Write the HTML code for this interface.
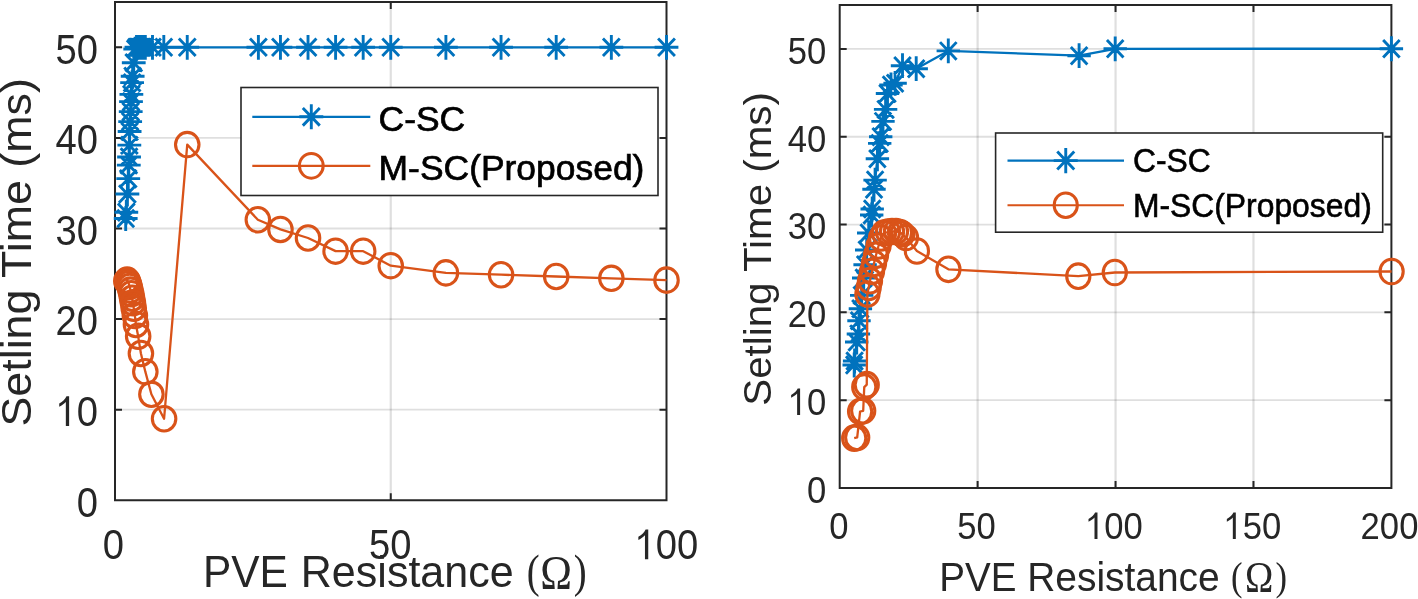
<!DOCTYPE html>
<html><head><meta charset="utf-8"><style>
html,body{margin:0;padding:0;background:#fff;width:1418px;height:599px;overflow:hidden}
svg{display:block;will-change:transform}
text{font-family:"Liberation Sans",sans-serif;fill:#262626}
</style></head><body>
<svg width="1418" height="599" viewBox="0 0 1418 599">
<rect width="1418" height="599" fill="#fff"/>
<path d="M390.75 2V500.3" stroke="#262626" stroke-opacity="0.15" stroke-width="2.2" fill="none"/>
<path d="M115 409.7H666.5" stroke="#262626" stroke-opacity="0.15" stroke-width="1.8" fill="none"/>
<path d="M115 319.1H666.5" stroke="#262626" stroke-opacity="0.15" stroke-width="1.8" fill="none"/>
<path d="M115 228.5H666.5" stroke="#262626" stroke-opacity="0.15" stroke-width="1.8" fill="none"/>
<path d="M115 137.9H666.5" stroke="#262626" stroke-opacity="0.15" stroke-width="1.8" fill="none"/>
<path d="M115 47.3H666.5" stroke="#262626" stroke-opacity="0.15" stroke-width="1.8" fill="none"/>
<path d="M115 2H666.5V500.3H115ZM115 500.3v-6M115 2v6M390.75 500.3v-6M390.75 2v6M666.5 500.3v-6M666.5 2v6M115 500.3h6M666.5 500.3h-6M115 409.7h6M666.5 409.7h-6M115 319.1h6M666.5 319.1h-6M115 228.5h6M666.5 228.5h-6M115 137.9h6M666.5 137.9h-6M115 47.3h6M666.5 47.3h-6" stroke="#262626" stroke-width="2" fill="none" stroke-linecap="square"/>
<path d="M125.7 218.53 L126.31 212.19 L127.41 194.07 L128.24 178.67 L128.79 165.08 L129.06 156.93 L129.34 145.15 L129.61 131.56 L130.17 121.59 L130.72 111.63 L130.99 101.66 L131.38 94.41 L132.1 82.63 L132.65 76.29 L133.75 62.7 L135.24 49.11 L136.51 47.3 L137.89 47.3 L139.27 47.3 L140.64 47.3 L142.02 47.3 L143.68 47.3 L145.33 47.3 L152.5 47.3 L163.81 47.3 L187.25 47.3 L258.39 47.3 L280.45 47.3 L308.02 47.3 L335.6 47.3 L363.18 47.3 L390.75 47.3 L445.9 47.3 L501.05 47.3 L556.2 47.3 L611.35 47.3 L666.5 47.3" stroke="#0072BD" stroke-width="2.3" fill="none" stroke-linejoin="round"/>
<path d="M113.8 218.53H137.6M125.7 206.16V230.91M117.28 209.78L134.11 227.29M117.28 227.29L134.11 209.78M114.41 212.19H138.21M126.31 199.82V224.57M117.89 203.44L134.72 220.94M117.89 220.94L134.72 203.44M115.51 194.07H139.31M127.41 181.7V206.45M118.99 185.32L135.82 202.82M118.99 202.82L135.82 185.32M116.34 178.67H140.14M128.24 166.29V191.05M119.82 169.92L136.65 187.42M119.82 187.42L136.65 169.92M116.89 165.08H140.69M128.79 152.7V177.46M120.37 156.33L137.2 173.83M120.37 173.83L137.2 156.33M117.16 156.93H140.96M129.06 144.55V169.3M120.65 148.17L137.48 165.68M120.65 165.68L137.48 148.17M117.44 145.15H141.24M129.34 132.77V157.52M120.92 136.4L137.75 153.9M120.92 153.9L137.75 136.4M117.71 131.56H141.51M129.61 119.18V143.93M121.2 122.81L138.03 140.31M121.2 140.31L138.03 122.81M118.27 121.59H142.07M130.17 109.22V133.97M121.75 112.84L138.58 130.34M121.75 130.34L138.58 112.84M118.82 111.63H142.62M130.72 99.25V124M122.3 102.87L139.13 120.38M122.3 120.38L139.13 102.87M119.09 101.66H142.89M130.99 89.28V114.04M122.58 92.91L139.41 110.41M122.58 110.41L139.41 92.91M119.48 94.41H143.28M131.38 82.04V106.79M122.97 85.66L139.79 103.16M122.97 103.16L139.79 85.66M120.2 82.63H144M132.1 70.26V95.01M123.68 73.88L140.51 91.39M123.68 91.39L140.51 73.88M120.75 76.29H144.55M132.65 63.92V88.67M124.23 67.54L141.06 85.04M124.23 85.04L141.06 67.54M121.85 62.7H145.65M133.75 50.33V75.08M125.34 53.95L142.17 71.45M125.34 71.45L142.17 53.95M123.34 49.11H147.14M135.24 36.74V61.49M126.83 40.36L143.65 57.86M126.83 57.86L143.65 40.36M124.61 47.3H148.41M136.51 34.92V59.68M128.09 38.55L144.92 56.05M128.09 56.05L144.92 38.55M125.99 47.3H149.79M137.89 34.92V59.68M129.47 38.55L146.3 56.05M129.47 56.05L146.3 38.55M127.37 47.3H151.17M139.27 34.92V59.68M130.85 38.55L147.68 56.05M130.85 56.05L147.68 38.55M128.74 47.3H152.54M140.64 34.92V59.68M132.23 38.55L149.06 56.05M132.23 56.05L149.06 38.55M130.12 47.3H153.92M142.02 34.92V59.68M133.61 38.55L150.44 56.05M133.61 56.05L150.44 38.55M131.78 47.3H155.58M143.68 34.92V59.68M135.26 38.55L152.09 56.05M135.26 56.05L152.09 38.55M133.43 47.3H157.23M145.33 34.92V59.68M136.92 38.55L153.75 56.05M136.92 56.05L153.75 38.55M140.6 47.3H164.4M152.5 34.92V59.68M144.09 38.55L160.92 56.05M144.09 56.05L160.92 38.55M151.91 47.3H175.71M163.81 34.92V59.68M155.39 38.55L172.22 56.05M155.39 56.05L172.22 38.55M175.35 47.3H199.15M187.25 34.92V59.68M178.83 38.55L195.66 56.05M178.83 56.05L195.66 38.55M246.49 47.3H270.29M258.39 34.92V59.68M249.98 38.55L266.8 56.05M249.98 56.05L266.8 38.55M268.55 47.3H292.35M280.45 34.92V59.68M272.04 38.55L288.86 56.05M272.04 56.05L288.86 38.55M296.12 47.3H319.92M308.02 34.92V59.68M299.61 38.55L316.44 56.05M299.61 56.05L316.44 38.55M323.7 47.3H347.5M335.6 34.92V59.68M327.19 38.55L344.01 56.05M327.19 56.05L344.01 38.55M351.28 47.3H375.07M363.18 34.92V59.68M354.76 38.55L371.59 56.05M354.76 56.05L371.59 38.55M378.85 47.3H402.65M390.75 34.92V59.68M382.34 38.55L399.16 56.05M382.34 56.05L399.16 38.55M434 47.3H457.8M445.9 34.92V59.68M437.49 38.55L454.31 56.05M437.49 56.05L454.31 38.55M489.15 47.3H512.95M501.05 34.92V59.68M492.64 38.55L509.46 56.05M492.64 56.05L509.46 38.55M544.3 47.3H568.1M556.2 34.92V59.68M547.79 38.55L564.61 56.05M547.79 56.05L564.61 38.55M599.45 47.3H623.25M611.35 34.92V59.68M602.94 38.55L619.76 56.05M602.94 56.05L619.76 38.55M654.6 47.3H678.4M666.5 34.92V59.68M658.09 38.55L674.91 56.05M658.09 56.05L674.91 38.55" stroke="#0072BD" stroke-width="2.9" fill="none"/>
<path d="M126.31 281.05 L127.13 280.14 L127.96 281.5 L128.79 283.77 L129.61 286.48 L130.44 290.11 L131.27 293.73 L132.1 298.26 L132.92 302.79 L133.75 308.23 L134.85 315.48 L135.96 324.54 L138.16 336.31 L140.92 353.53 L145.33 371.65 L151.4 394.3 L164.08 418.76 L187.25 144.6 L257.84 219.71 L280.45 229.41 L308.02 238.01 L335.6 251.15 L363.18 251.15 L390.75 265.65 L445.9 272.89 L501.05 274.71 L556.2 276.52 L611.35 278.33 L666.5 280.14" stroke="#D95319" stroke-width="2.3" fill="none" stroke-linejoin="round"/>
<ellipse cx="126.31" cy="281.05" rx="11.75" ry="12.22" stroke="#D95319" stroke-width="3.1" fill="none"/>
<ellipse cx="127.13" cy="280.14" rx="11.75" ry="12.22" stroke="#D95319" stroke-width="3.1" fill="none"/>
<ellipse cx="127.96" cy="281.5" rx="11.75" ry="12.22" stroke="#D95319" stroke-width="3.1" fill="none"/>
<ellipse cx="128.79" cy="283.77" rx="11.75" ry="12.22" stroke="#D95319" stroke-width="3.1" fill="none"/>
<ellipse cx="129.61" cy="286.48" rx="11.75" ry="12.22" stroke="#D95319" stroke-width="3.1" fill="none"/>
<ellipse cx="130.44" cy="290.11" rx="11.75" ry="12.22" stroke="#D95319" stroke-width="3.1" fill="none"/>
<ellipse cx="131.27" cy="293.73" rx="11.75" ry="12.22" stroke="#D95319" stroke-width="3.1" fill="none"/>
<ellipse cx="132.1" cy="298.26" rx="11.75" ry="12.22" stroke="#D95319" stroke-width="3.1" fill="none"/>
<ellipse cx="132.92" cy="302.79" rx="11.75" ry="12.22" stroke="#D95319" stroke-width="3.1" fill="none"/>
<ellipse cx="133.75" cy="308.23" rx="11.75" ry="12.22" stroke="#D95319" stroke-width="3.1" fill="none"/>
<ellipse cx="134.85" cy="315.48" rx="11.75" ry="12.22" stroke="#D95319" stroke-width="3.1" fill="none"/>
<ellipse cx="135.96" cy="324.54" rx="11.75" ry="12.22" stroke="#D95319" stroke-width="3.1" fill="none"/>
<ellipse cx="138.16" cy="336.31" rx="11.75" ry="12.22" stroke="#D95319" stroke-width="3.1" fill="none"/>
<ellipse cx="140.92" cy="353.53" rx="11.75" ry="12.22" stroke="#D95319" stroke-width="3.1" fill="none"/>
<ellipse cx="145.33" cy="371.65" rx="11.75" ry="12.22" stroke="#D95319" stroke-width="3.1" fill="none"/>
<ellipse cx="151.4" cy="394.3" rx="11.75" ry="12.22" stroke="#D95319" stroke-width="3.1" fill="none"/>
<ellipse cx="164.08" cy="418.76" rx="11.75" ry="12.22" stroke="#D95319" stroke-width="3.1" fill="none"/>
<ellipse cx="187.25" cy="144.6" rx="11.75" ry="12.22" stroke="#D95319" stroke-width="3.1" fill="none"/>
<ellipse cx="257.84" cy="219.71" rx="11.75" ry="12.22" stroke="#D95319" stroke-width="3.1" fill="none"/>
<ellipse cx="280.45" cy="229.41" rx="11.75" ry="12.22" stroke="#D95319" stroke-width="3.1" fill="none"/>
<ellipse cx="308.02" cy="238.01" rx="11.75" ry="12.22" stroke="#D95319" stroke-width="3.1" fill="none"/>
<ellipse cx="335.6" cy="251.15" rx="11.75" ry="12.22" stroke="#D95319" stroke-width="3.1" fill="none"/>
<ellipse cx="363.18" cy="251.15" rx="11.75" ry="12.22" stroke="#D95319" stroke-width="3.1" fill="none"/>
<ellipse cx="390.75" cy="265.65" rx="11.75" ry="12.22" stroke="#D95319" stroke-width="3.1" fill="none"/>
<ellipse cx="445.9" cy="272.89" rx="11.75" ry="12.22" stroke="#D95319" stroke-width="3.1" fill="none"/>
<ellipse cx="501.05" cy="274.71" rx="11.75" ry="12.22" stroke="#D95319" stroke-width="3.1" fill="none"/>
<ellipse cx="556.2" cy="276.52" rx="11.75" ry="12.22" stroke="#D95319" stroke-width="3.1" fill="none"/>
<ellipse cx="611.35" cy="278.33" rx="11.75" ry="12.22" stroke="#D95319" stroke-width="3.1" fill="none"/>
<ellipse cx="666.5" cy="280.14" rx="11.75" ry="12.22" stroke="#D95319" stroke-width="3.1" fill="none"/>
<text transform="translate(97.9 516.65) scale(0.955 1.06)" font-size="40" text-anchor="end">0</text>
<text transform="translate(97.9 426.05) scale(0.955 1.06)" font-size="40" text-anchor="end"><tspan style="fill:none">1</tspan>0</text>
<path transform="translate(55.41 426.05) scale(38.2 42.4)" d="M0.359 0V-0.703H0.29C0.26 -0.64 0.19 -0.575 0.10 -0.53V-0.455C0.17 -0.49 0.23 -0.53 0.273 -0.57V0Z" fill="#262626"/>
<text transform="translate(97.9 335.45) scale(0.955 1.06)" font-size="40" text-anchor="end">20</text>
<text transform="translate(97.9 244.85) scale(0.955 1.06)" font-size="40" text-anchor="end">30</text>
<text transform="translate(97.9 154.25) scale(0.955 1.06)" font-size="40" text-anchor="end">40</text>
<text transform="translate(97.9 63.65) scale(0.955 1.06)" font-size="40" text-anchor="end">50</text>
<text transform="translate(113.4 559.3) scale(0.955 1.06)" font-size="40" text-anchor="middle">0</text>
<text transform="translate(390.35 559.3) scale(0.955 1.06)" font-size="40" text-anchor="middle">50</text>
<text transform="translate(666.4 559.3) scale(0.955 1.06)" font-size="40" text-anchor="middle"><tspan style="fill:none">1</tspan>00</text>
<path transform="translate(634.53 559.3) scale(38.2 42.4)" d="M0.359 0V-0.703H0.29C0.26 -0.64 0.19 -0.575 0.10 -0.53V-0.455C0.17 -0.49 0.23 -0.53 0.273 -0.57V0Z" fill="#262626"/>
<text transform="translate(202.9 587.3) scale(0.965 1.014)" font-size="44">PVE</text>
<text transform="translate(300.8 587.3) scale(0.978 1.014)" font-size="44">Resistance</text>
<text transform="translate(526.7 587.3) scale(0.85 1)" font-size="45.6" style="font-family:'Liberation Serif'">(</text>
<text transform="translate(540.3 589) scale(0.88 1)" font-size="48.5" style="font-family:'Liberation Serif'">&#937;</text>
<text transform="translate(573.8 587.3) scale(0.85 1)" font-size="45.6" style="font-family:'Liberation Serif'">)</text>
<text transform="translate(31 426.5) scale(0.965 1.018) rotate(-90)" font-size="44">Setling Time (ms)</text>
<rect x="241" y="87.5" width="417" height="108" fill="#fff" stroke="#262626" stroke-width="1.6"/>
<path d="M252.3 116.8H370.3" stroke="#0072BD" stroke-width="2.2"/>
<path d="M299.3 116.8H323.3M311.3 104.32V129.28M302.81 107.98L319.79 125.62M302.81 125.62L319.79 107.98" stroke="#0072BD" stroke-width="2.9" fill="none"/>
<text transform="translate(378.6 131.2) scale(0.99 1)" font-size="35.8" style="fill:#000;stroke:#000;stroke-width:0.7px">C-SC</text>
<path d="M252.3 165.8H370.3" stroke="#D95319" stroke-width="2.2"/>
<ellipse cx="311.3" cy="165.8" rx="11.9" ry="12.38" stroke="#D95319" stroke-width="3" fill="none"/>
<text transform="translate(378.6 180.2) scale(0.99 1)" font-size="35.8" style="fill:#000;stroke:#000;stroke-width:0.7px">M-SC(Proposed)</text>
<path d="M977.62 5V488" stroke="#262626" stroke-opacity="0.15" stroke-width="2.2" fill="none"/>
<path d="M1115.55 5V488" stroke="#262626" stroke-opacity="0.15" stroke-width="2.2" fill="none"/>
<path d="M1253.48 5V488" stroke="#262626" stroke-opacity="0.15" stroke-width="2.2" fill="none"/>
<path d="M839.7 400.18H1391.4" stroke="#262626" stroke-opacity="0.15" stroke-width="1.8" fill="none"/>
<path d="M839.7 312.36H1391.4" stroke="#262626" stroke-opacity="0.15" stroke-width="1.8" fill="none"/>
<path d="M839.7 224.55H1391.4" stroke="#262626" stroke-opacity="0.15" stroke-width="1.8" fill="none"/>
<path d="M839.7 136.73H1391.4" stroke="#262626" stroke-opacity="0.15" stroke-width="1.8" fill="none"/>
<path d="M839.7 48.91H1391.4" stroke="#262626" stroke-opacity="0.15" stroke-width="1.8" fill="none"/>
<path d="M839.7 5H1391.4V488H839.7ZM839.7 488v-6M839.7 5v6M977.62 488v-6M977.62 5v6M1115.55 488v-6M1115.55 5v6M1253.48 488v-6M1253.48 5v6M1391.4 488v-6M1391.4 5v6M839.7 488h6M1391.4 488h-6M839.7 400.18h6M1391.4 400.18h-6M839.7 312.36h6M1391.4 312.36h-6M839.7 224.55h6M1391.4 224.55h-6M839.7 136.73h6M1391.4 136.73h-6M839.7 48.91h6M1391.4 48.91h-6" stroke="#262626" stroke-width="2" fill="none" stroke-linecap="square"/>
<path d="M854.2 365 L854.6 361 L856.7 342 L858.4 334 L859 320.8 L860.4 308.7 L861.7 295.4 L863.7 278 L865.1 264.7 L866.7 250 L868.7 233 L871.7 215 L872.2 209 L874 189.3 L875.1 180.1 L877.4 158.8 L879.7 143.4 L880.7 136.7 L883 121.4 L885.6 109.4 L887.5 93.5 L891 85 L895.1 83.3 L902.5 65.7 L916.2 68.7 L948.3 50.9 L1079.1 55.7 L1115.2 48.8 L1391.4 48.75" stroke="#0072BD" stroke-width="2.3" fill="none" stroke-linejoin="round"/>
<path d="M842.5 365H865.9M854.2 352.6V377.4M845.93 356.23L862.47 373.77M845.93 373.77L862.47 356.23M842.9 361H866.3M854.6 348.6V373.4M846.33 352.23L862.87 369.77M846.33 369.77L862.87 352.23M845 342H868.4M856.7 329.6V354.4M848.43 333.23L864.97 350.77M848.43 350.77L864.97 333.23M846.7 334H870.1M858.4 321.6V346.4M850.13 325.23L866.67 342.77M850.13 342.77L866.67 325.23M847.3 320.8H870.7M859 308.4V333.2M850.73 312.03L867.27 329.57M850.73 329.57L867.27 312.03M848.7 308.7H872.1M860.4 296.3V321.1M852.13 299.93L868.67 317.47M852.13 317.47L868.67 299.93M850 295.4H873.4M861.7 283V307.8M853.43 286.63L869.97 304.17M853.43 304.17L869.97 286.63M852 278H875.4M863.7 265.6V290.4M855.43 269.23L871.97 286.77M855.43 286.77L871.97 269.23M853.4 264.7H876.8M865.1 252.3V277.1M856.83 255.93L873.37 273.47M856.83 273.47L873.37 255.93M855 250H878.4M866.7 237.6V262.4M858.43 241.23L874.97 258.77M858.43 258.77L874.97 241.23M857 233H880.4M868.7 220.6V245.4M860.43 224.23L876.97 241.77M860.43 241.77L876.97 224.23M860 215H883.4M871.7 202.6V227.4M863.43 206.23L879.97 223.77M863.43 223.77L879.97 206.23M860.5 209H883.9M872.2 196.6V221.4M863.93 200.23L880.47 217.77M863.93 217.77L880.47 200.23M862.3 189.3H885.7M874 176.9V201.7M865.73 180.53L882.27 198.07M865.73 198.07L882.27 180.53M863.4 180.1H886.8M875.1 167.7V192.5M866.83 171.33L883.37 188.87M866.83 188.87L883.37 171.33M865.7 158.8H889.1M877.4 146.4V171.2M869.13 150.03L885.67 167.57M869.13 167.57L885.67 150.03M868 143.4H891.4M879.7 131V155.8M871.43 134.63L887.97 152.17M871.43 152.17L887.97 134.63M869 136.7H892.4M880.7 124.3V149.1M872.43 127.93L888.97 145.47M872.43 145.47L888.97 127.93M871.3 121.4H894.7M883 109V133.8M874.73 112.63L891.27 130.17M874.73 130.17L891.27 112.63M873.9 109.4H897.3M885.6 97V121.8M877.33 100.63L893.87 118.17M877.33 118.17L893.87 100.63M875.8 93.5H899.2M887.5 81.1V105.9M879.23 84.73L895.77 102.27M879.23 102.27L895.77 84.73M879.3 85H902.7M891 72.6V97.4M882.73 76.23L899.27 93.77M882.73 93.77L899.27 76.23M883.4 83.3H906.8M895.1 70.9V95.7M886.83 74.53L903.37 92.07M886.83 92.07L903.37 74.53M890.8 65.7H914.2M902.5 53.3V78.1M894.23 56.93L910.77 74.47M894.23 74.47L910.77 56.93M904.5 68.7H927.9M916.2 56.3V81.1M907.93 59.93L924.47 77.47M907.93 77.47L924.47 59.93M936.6 50.9H960M948.3 38.5V63.3M940.03 42.13L956.57 59.67M940.03 59.67L956.57 42.13M1067.4 55.7H1090.8M1079.1 43.3V68.1M1070.83 46.93L1087.37 64.47M1070.83 64.47L1087.37 46.93M1103.5 48.8H1126.9M1115.2 36.4V61.2M1106.93 40.03L1123.47 57.57M1106.93 57.57L1123.47 40.03M1379.7 48.75H1403.1M1391.4 36.35V61.15M1383.13 39.98L1399.67 57.52M1383.13 57.52L1399.67 39.98" stroke="#0072BD" stroke-width="2.9" fill="none"/>
<path d="M854.2 438.2 L857.2 437.4 L860.1 411.5 L863.2 410.8 L864.25 387.1 L866.75 384.7 L867.4 294 L868.7 287.4 L870 280.7 L872 271.4 L874 263.4 L876 255.3 L878.5 246 L881 238 L884 233 L888 232 L892 231.5 L896 231.5 L900 232.5 L902.3 234 L906 237.5 L916.9 251 L948.4 269.3 L1078.3 276.2 L1114.8 272.5 L1391.6 271.5" stroke="#D95319" stroke-width="2.3" fill="none" stroke-linejoin="round"/>
<ellipse cx="854.2" cy="438.2" rx="11.6" ry="12.3" stroke="#D95319" stroke-width="3.1" fill="none"/>
<ellipse cx="857.2" cy="437.4" rx="11.6" ry="12.3" stroke="#D95319" stroke-width="3.1" fill="none"/>
<ellipse cx="860.1" cy="411.5" rx="11.6" ry="12.3" stroke="#D95319" stroke-width="3.1" fill="none"/>
<ellipse cx="863.2" cy="410.8" rx="11.6" ry="12.3" stroke="#D95319" stroke-width="3.1" fill="none"/>
<ellipse cx="864.25" cy="387.1" rx="11.6" ry="12.3" stroke="#D95319" stroke-width="3.1" fill="none"/>
<ellipse cx="866.75" cy="384.7" rx="11.6" ry="12.3" stroke="#D95319" stroke-width="3.1" fill="none"/>
<ellipse cx="867.4" cy="294" rx="11.6" ry="12.3" stroke="#D95319" stroke-width="3.1" fill="none"/>
<ellipse cx="868.7" cy="287.4" rx="11.6" ry="12.3" stroke="#D95319" stroke-width="3.1" fill="none"/>
<ellipse cx="870" cy="280.7" rx="11.6" ry="12.3" stroke="#D95319" stroke-width="3.1" fill="none"/>
<ellipse cx="872" cy="271.4" rx="11.6" ry="12.3" stroke="#D95319" stroke-width="3.1" fill="none"/>
<ellipse cx="874" cy="263.4" rx="11.6" ry="12.3" stroke="#D95319" stroke-width="3.1" fill="none"/>
<ellipse cx="876" cy="255.3" rx="11.6" ry="12.3" stroke="#D95319" stroke-width="3.1" fill="none"/>
<ellipse cx="878.5" cy="246" rx="11.6" ry="12.3" stroke="#D95319" stroke-width="3.1" fill="none"/>
<ellipse cx="881" cy="238" rx="11.6" ry="12.3" stroke="#D95319" stroke-width="3.1" fill="none"/>
<ellipse cx="884" cy="233" rx="11.6" ry="12.3" stroke="#D95319" stroke-width="3.1" fill="none"/>
<ellipse cx="888" cy="232" rx="11.6" ry="12.3" stroke="#D95319" stroke-width="3.1" fill="none"/>
<ellipse cx="892" cy="231.5" rx="11.6" ry="12.3" stroke="#D95319" stroke-width="3.1" fill="none"/>
<ellipse cx="896" cy="231.5" rx="11.6" ry="12.3" stroke="#D95319" stroke-width="3.1" fill="none"/>
<ellipse cx="900" cy="232.5" rx="11.6" ry="12.3" stroke="#D95319" stroke-width="3.1" fill="none"/>
<ellipse cx="902.3" cy="234" rx="11.6" ry="12.3" stroke="#D95319" stroke-width="3.1" fill="none"/>
<ellipse cx="906" cy="237.5" rx="11.6" ry="12.3" stroke="#D95319" stroke-width="3.1" fill="none"/>
<ellipse cx="916.9" cy="251" rx="11.6" ry="12.3" stroke="#D95319" stroke-width="3.1" fill="none"/>
<ellipse cx="948.4" cy="269.3" rx="11.6" ry="12.3" stroke="#D95319" stroke-width="3.1" fill="none"/>
<ellipse cx="1078.3" cy="276.2" rx="11.6" ry="12.3" stroke="#D95319" stroke-width="3.1" fill="none"/>
<ellipse cx="1114.8" cy="272.5" rx="11.6" ry="12.3" stroke="#D95319" stroke-width="3.1" fill="none"/>
<ellipse cx="1391.6" cy="271.5" rx="11.6" ry="12.3" stroke="#D95319" stroke-width="3.1" fill="none"/>
<text transform="translate(826.2 502.8) scale(0.99 1.075)" font-size="35" text-anchor="end">0</text>
<text transform="translate(826.2 414.98) scale(0.99 1.075)" font-size="35" text-anchor="end"><tspan style="fill:none">1</tspan>0</text>
<path transform="translate(787.66 414.98) scale(34.65 37.62)" d="M0.359 0V-0.703H0.29C0.26 -0.64 0.19 -0.575 0.10 -0.53V-0.455C0.17 -0.49 0.23 -0.53 0.273 -0.57V0Z" fill="#262626"/>
<text transform="translate(826.2 327.16) scale(0.99 1.075)" font-size="35" text-anchor="end">20</text>
<text transform="translate(826.2 239.35) scale(0.99 1.075)" font-size="35" text-anchor="end">30</text>
<text transform="translate(826.2 151.53) scale(0.99 1.075)" font-size="35" text-anchor="end">40</text>
<text transform="translate(826.2 63.71) scale(0.99 1.075)" font-size="35" text-anchor="end">50</text>
<text transform="translate(838.9 538.9) scale(0.99 1.075)" font-size="35" text-anchor="middle">0</text>
<text transform="translate(976.42 538.9) scale(0.99 1.075)" font-size="35" text-anchor="middle">50</text>
<text transform="translate(1113.95 538.9) scale(0.99 1.075)" font-size="35" text-anchor="middle"><tspan style="fill:none">1</tspan>00</text>
<path transform="translate(1085.04 538.9) scale(34.65 37.62)" d="M0.359 0V-0.703H0.29C0.26 -0.64 0.19 -0.575 0.10 -0.53V-0.455C0.17 -0.49 0.23 -0.53 0.273 -0.57V0Z" fill="#262626"/>
<text transform="translate(1252.28 538.9) scale(0.99 1.075)" font-size="35" text-anchor="middle"><tspan style="fill:none">1</tspan>50</text>
<path transform="translate(1223.37 538.9) scale(34.65 37.62)" d="M0.359 0V-0.703H0.29C0.26 -0.64 0.19 -0.575 0.10 -0.53V-0.455C0.17 -0.49 0.23 -0.53 0.273 -0.57V0Z" fill="#262626"/>
<text transform="translate(1389.5 538.9) scale(0.99 1.075)" font-size="35" text-anchor="middle">200</text>
<text transform="translate(939.2 590.5) scale(0.965 1.014)" font-size="40">PVE</text>
<text transform="translate(1027.2 590.5) scale(0.973 1.014)" font-size="40">Resistance</text>
<text transform="translate(1231.1 590.2) scale(0.85 1)" font-size="40.7" style="font-family:'Liberation Serif'">(</text>
<text transform="translate(1244.9 591.6) scale(0.88 1)" font-size="43.3" style="font-family:'Liberation Serif'">&#937;</text>
<text transform="translate(1275.5 590.2) scale(0.85 1)" font-size="40.7" style="font-family:'Liberation Serif'">)</text>
<text transform="translate(771 405.7) scale(0.97 1.008) rotate(-90)" font-size="40">Setling Time (ms)</text>
<rect x="995.6" y="133" width="387.1" height="99.2" fill="#fff" stroke="#262626" stroke-width="1.6"/>
<path d="M1007.5 160.6H1124" stroke="#0072BD" stroke-width="2.1"/>
<path d="M1053.75 160.6H1077.75M1065.75 147.88V173.32M1057.26 151.61L1074.24 169.59M1057.26 169.59L1074.24 151.61" stroke="#0072BD" stroke-width="2.9" fill="none"/>
<text transform="translate(1132.9 172.2) scale(0.951 1)" font-size="33.5" style="fill:#000;stroke:#000;stroke-width:0.6px">C-SC</text>
<path d="M1007.5 205.2H1124" stroke="#D95319" stroke-width="2.1"/>
<ellipse cx="1065.75" cy="205.2" rx="11.6" ry="12.3" stroke="#D95319" stroke-width="3" fill="none"/>
<text transform="translate(1132.9 216.5) scale(0.951 1)" font-size="33.5" style="fill:#000;stroke:#000;stroke-width:0.6px">M-SC(Proposed)</text>
</svg>
</body></html>
